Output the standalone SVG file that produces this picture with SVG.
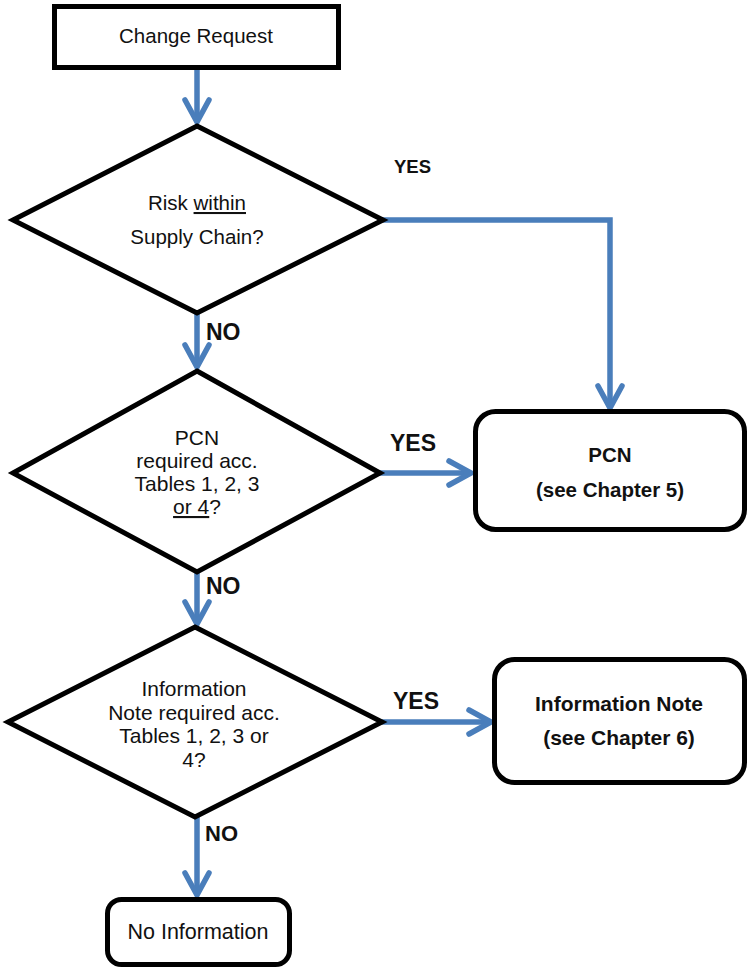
<svg xmlns="http://www.w3.org/2000/svg" width="748" height="967" viewBox="0 0 748 967">
<style>
.shape{fill:#fff;stroke:#000;stroke-width:5;stroke-linejoin:miter}
.conn{fill:none;stroke:#4A7EBB;stroke-width:5.5;marker-end:url(#arr)}
.t{font-family:"Liberation Sans",Arial,sans-serif;fill:#111;text-anchor:middle}
.b{font-family:"Liberation Sans",Arial,sans-serif;font-weight:bold;fill:#111}
.bc{font-family:"Liberation Sans",Arial,sans-serif;font-weight:bold;fill:#111;text-anchor:middle}
</style>
<defs>
<marker id="arr" markerUnits="userSpaceOnUse" viewBox="-30 -20 40 40" refX="0" refY="0" markerWidth="40" markerHeight="40" orient="auto">
<path d="M-22,-12 L0,0 L-22,12" fill="none" stroke="#4A7EBB" stroke-width="5.5" stroke-linecap="round" stroke-linejoin="miter"/>
</marker>
</defs>
<rect width="748" height="967" fill="#fff"/>
<g id="connectors">
<path class="conn" d="M197,70 V122"/>
<path class="conn" d="M383,220 H610 V408"/>
<path class="conn" d="M197,313 V367"/>
<path class="conn" d="M380,473 H471"/>
<path class="conn" d="M197,572 V624"/>
<path class="conn" d="M382,722 H491"/>
<path class="conn" d="M197,817 V895"/>
<text class="b" x="394" y="173" font-size="18.5">YES</text>
<text class="b" x="206" y="340" font-size="23">NO</text>
<text class="b" x="390" y="451" font-size="23">YES</text>
<text class="b" x="206" y="594" font-size="23">NO</text>
<text class="b" x="393" y="709" font-size="23">YES</text>
<text class="b" x="205" y="841" font-size="22">NO</text>
</g>
<g id="change-request">
<rect class="shape" x="54.5" y="6.5" width="284" height="61"/>
<text class="t" x="196" y="43" font-size="20.5">Change Request</text>
</g>
<g id="risk-decision">
<polygon class="shape" points="197,126 383,220 197,313 13,220"/>
<text class="t" x="197" y="210" font-size="20.5">Risk <tspan text-decoration="underline">within</tspan></text>
<text class="t" x="197" y="244" font-size="20.5">Supply Chain?</text>
</g>
<g id="pcn-decision">
<polygon class="shape" points="197,371 380,473 197,572 13,473"/>
<text class="t" x="197" y="445" font-size="21">PCN</text>
<text class="t" x="197" y="468" font-size="21">required acc.</text>
<text class="t" x="197" y="491" font-size="21">Tables 1, 2, 3</text>
<text class="t" x="197" y="514" font-size="21"><tspan text-decoration="underline">or 4</tspan>?</text>
</g>
<g id="pcn">
<rect class="shape" x="475.5" y="411.5" width="269" height="118" rx="20"/>
<text class="bc" x="610" y="462" font-size="20.5">PCN</text>
<text class="bc" x="610" y="497" font-size="20.5">(see Chapter 5)</text>
</g>
<g id="info-decision">
<polygon class="shape" points="195,627 382,722 195,817 8,722"/>
<text class="t" x="194" y="696" font-size="21">Information</text>
<text class="t" x="194" y="720" font-size="21">Note required acc.</text>
<text class="t" x="194" y="743" font-size="21">Tables 1, 2, 3 or</text>
<text class="t" x="194" y="767" font-size="21">4?</text>
</g>
<g id="info-note">
<rect class="shape" x="494.5" y="659.5" width="250" height="123" rx="20"/>
<text class="bc" x="619" y="711" font-size="21">Information Note</text>
<text class="bc" x="619" y="745" font-size="21">(see Chapter 6)</text>
</g>
<g id="no-information">
<rect class="shape" x="107.5" y="899.5" width="182" height="65" rx="14"/>
<text class="t" x="198" y="939" font-size="21.5">No Information</text>
</g>
</svg>
